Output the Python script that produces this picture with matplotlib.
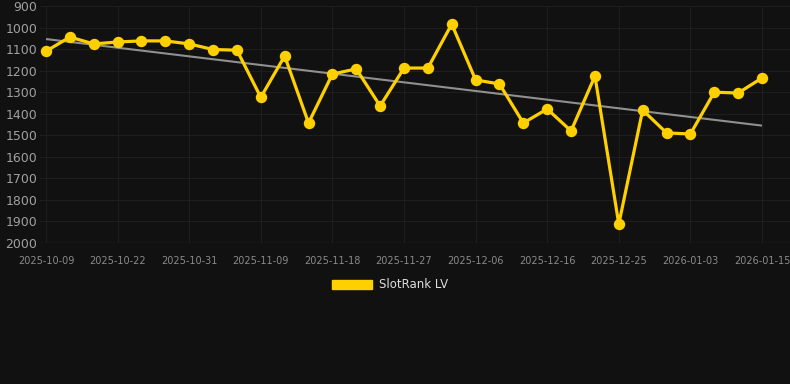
import matplotlib
matplotlib.use("Agg")
import matplotlib.pyplot as plt
from matplotlib.patches import Patch
import numpy as np

dates = ["2025-10-09", "2025-10-13", "2025-10-18", "2025-10-22", "2025-10-25", "2025-10-28",
         "2025-10-31", "2025-11-03", "2025-11-06", "2025-11-09", "2025-11-12", "2025-11-15",
         "2025-11-18", "2025-11-21", "2025-11-24", "2025-11-27", "2025-11-30", "2025-12-03",
         "2025-12-06", "2025-12-09", "2025-12-13", "2025-12-16", "2025-12-19", "2025-12-22",
         "2025-12-25", "2025-12-28", "2025-12-31", "2026-01-03", "2026-01-07", "2026-01-11",
         "2026-01-15"]
ranks = [1110, 1044, 1076, 1067, 1062, 1062, 1076, 1102, 1105, 1324, 1132, 1443,
         1216, 1192, 1364, 1188, 1188, 984, 1243, 1262, 1443, 1378, 1480, 1225,
         1912, 1383, 1489, 1494, 1300, 1304, 1234]
series_name = "SlotRank LV"
y_ticks = [900, 1000, 1100, 1200, 1300, 1400, 1500, 1600, 1700, 1800, 1900, 2000]

BG = "#111111"
GRID = "#1e1e1e"
GOLD = "#FFD000"
TXT = "#a0a0a0"

fig = plt.figure(figsize=(7.9, 3.84), dpi=100, facecolor=BG)
W, H = 790, 384
ax = fig.add_axes([40 / W, 1 - 243 / H, 750 / W, 237 / H], facecolor=BG)

x = np.arange(len(ranks))
# trend (least squares)
coef = np.polyfit(x, ranks, 1)
ax.plot(x, np.polyval(coef, x), color="#909090", lw=1.5, zorder=2, solid_capstyle="butt")
ax.plot(x, ranks, color=GOLD, lw=2.3, marker="o", markersize=7.2, zorder=3)

ax.set_ylim(2000, 900)
ax.set_yticks(y_ticks)
step = 23.87
ax.set_xlim(-6 / step, 30 + 28 / step)
tick_idx = list(range(0, len(dates), 3))
ax.set_xticks(tick_idx)
ax.set_xticklabels([dates[i] for i in tick_idx])

ax.grid(True, color=GRID, lw=0.8)
ax.set_axisbelow(True)
for s in ax.spines.values():
    s.set_visible(False)
ax.axhline(2000, color="#2a2a2a", lw=1, zorder=1)
ax.tick_params(axis="y", length=0, pad=2, labelsize=9, labelcolor=TXT)
ax.tick_params(axis="x", length=0, pad=9, labelsize=7, labelcolor="#8a8a8a")

leg = fig.legend(handles=[Patch(facecolor=GOLD, edgecolor=GOLD, label=series_name)],
                 loc="center", bbox_to_anchor=(390 / W, 1 - 285 / H), frameon=False,
                 fontsize=8.5, handlelength=3.4, handleheight=0.9, handletextpad=0.6,
                 labelcolor="#dddddd")

fig.savefig("out.png", dpi=100, facecolor=BG)
